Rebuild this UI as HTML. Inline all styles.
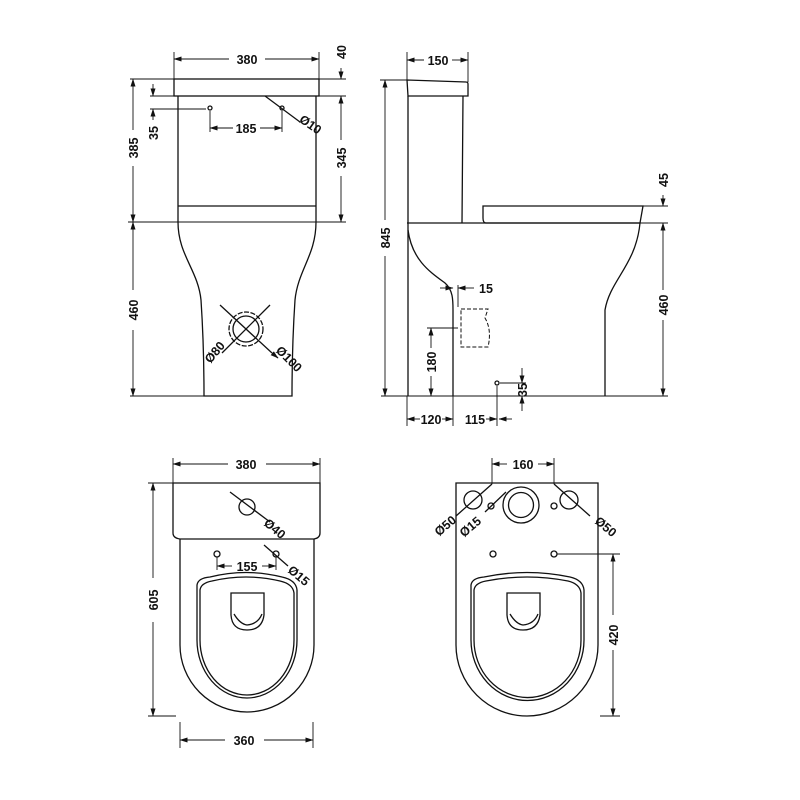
<!DOCTYPE html>
<html><head><meta charset="utf-8"><style>html,body{margin:0;padding:0;background:#fff}svg{display:block}text{font-family:"Liberation Sans",sans-serif;font-size:12.5px;font-weight:bold;fill:#111}</style></head><body>
<svg width="800" height="800" viewBox="0 0 800 800" xmlns="http://www.w3.org/2000/svg">
<defs><marker id="a" markerWidth="8" markerHeight="6" refX="7.5" refY="3" orient="auto-start-reverse" markerUnits="userSpaceOnUse"><path d="M0,0.5 L8,3 L0,5.5z" fill="#111"/></marker></defs>
<g fill="none" stroke="#111" stroke-width="1.3">
<!-- FRONT VIEW -->
<rect x="174" y="79" width="145" height="17"/>
<path d="M178,96 V222 C178,255 198,270 201,300 C203,330 204,370 204,396 H292 C292,370 293,330 295,300 C298,270 316,255 316,222 V96"/>
<line x1="178" y1="206" x2="316" y2="206"/>
<circle cx="210" cy="108" r="2"/><circle cx="282" cy="108" r="2"/>
<circle cx="246" cy="329" r="17" stroke-dasharray="5 1.5"/><circle cx="246" cy="329" r="13"/>
<line x1="220" y1="305" x2="272" y2="353"/><line x1="270" y1="305" x2="222" y2="353"/>
<line x1="272" y1="353" x2="278" y2="358" marker-end="url(#a)"/>
<line x1="265" y1="96" x2="300" y2="122"/>
</g>
<g fill="none" stroke="#111" stroke-width="0.9">
<line x1="174" y1="52" x2="174" y2="79"/><line x1="319" y1="52" x2="319" y2="79"/>
<line x1="174" y1="59" x2="229" y2="59" marker-start="url(#a)"/><line x1="265" y1="59" x2="319" y2="59" marker-end="url(#a)"/>
<line x1="130" y1="79" x2="174" y2="79"/><line x1="319" y1="79" x2="346" y2="79"/><line x1="316" y1="96" x2="346" y2="96"/>
<line x1="128" y1="222" x2="346" y2="222"/><line x1="130" y1="396" x2="204" y2="396"/>
<line x1="341" y1="68" x2="341" y2="79" marker-end="url(#a)"/>
<line x1="341" y1="96" x2="341" y2="140" marker-start="url(#a)"/><line x1="341" y1="176" x2="341" y2="222" marker-end="url(#a)"/>
<line x1="133" y1="79" x2="133" y2="130" marker-start="url(#a)"/><line x1="133" y1="166" x2="133" y2="222" marker-end="url(#a)"/>
<line x1="133" y1="222" x2="133" y2="290" marker-start="url(#a)"/><line x1="133" y1="330" x2="133" y2="396" marker-end="url(#a)"/>
<line x1="150" y1="96" x2="178" y2="96"/><line x1="150" y1="109" x2="206" y2="109"/>
<line x1="153" y1="84" x2="153" y2="96" marker-end="url(#a)"/><line x1="153" y1="109" x2="153" y2="120" marker-start="url(#a)"/>
<line x1="210" y1="111" x2="210" y2="132"/><line x1="282" y1="111" x2="282" y2="132"/>
<line x1="210" y1="128" x2="233" y2="128" marker-start="url(#a)"/><line x1="260" y1="128" x2="282" y2="128" marker-end="url(#a)"/>
<!-- SIDE VIEW -->
</g>
<g fill="none" stroke="#111" stroke-width="1.3">
<path d="M407,80 L466,82 Q468,82 468,84 V96 H408 Z"/>
<path d="M408,96 V396 M463,96 L462,223"/>
<path d="M483,206 H643 L640,223 H486 Q483,223 483,218 Z"/>
<path d="M407,223 H640 C636,265 610,280 605,310 V396"/>
<path d="M408,230 C412,260 430,272 445,283 C453,290 453,300 453,310 V396"/>
<path d="M461,309 H488 L485,318 Q492,330 488,347 H461 Z" stroke-dasharray="4 2" stroke-width="1"/>
<circle cx="497" cy="383" r="2"/>
</g>
<g fill="none" stroke="#111" stroke-width="0.9">
<line x1="381" y1="396" x2="668" y2="396"/>
<line x1="380" y1="80" x2="407" y2="80"/>
<line x1="385" y1="80" x2="385" y2="220" marker-start="url(#a)"/><line x1="385" y1="256" x2="385" y2="396" marker-end="url(#a)"/>
<line x1="407" y1="52" x2="407" y2="80"/><line x1="468" y1="52" x2="468" y2="82"/>
<line x1="407" y1="60" x2="424" y2="60" marker-start="url(#a)"/><line x1="452" y1="60" x2="468" y2="60" marker-end="url(#a)"/>
<line x1="643" y1="206" x2="668" y2="206"/><line x1="640" y1="223" x2="668" y2="223"/>
<line x1="663" y1="195" x2="663" y2="206" marker-end="url(#a)"/><line x1="663" y1="223" x2="663" y2="290" marker-start="url(#a)"/><line x1="663" y1="320" x2="663" y2="396" marker-end="url(#a)"/>
<line x1="440" y1="288" x2="453" y2="288" marker-end="url(#a)"/><line x1="458" y1="285" x2="458" y2="307"/><line x1="474" y1="288" x2="458" y2="288" marker-end="url(#a)"/>
<line x1="427" y1="328" x2="458" y2="328"/>
<line x1="431" y1="328" x2="431" y2="348" marker-start="url(#a)"/><line x1="431" y1="376" x2="431" y2="396" marker-end="url(#a)"/>
<line x1="500" y1="383" x2="526" y2="383"/>
<line x1="522" y1="368" x2="522" y2="383" marker-end="url(#a)"/><line x1="522" y1="411" x2="522" y2="396" marker-end="url(#a)"/>
<line x1="407" y1="396" x2="407" y2="426"/><line x1="453" y1="396" x2="453" y2="426"/><line x1="497" y1="386" x2="497" y2="426"/>
<line x1="420" y1="419" x2="407" y2="419" marker-end="url(#a)"/><line x1="442" y1="419" x2="453" y2="419" marker-end="url(#a)"/>
<line x1="486" y1="419" x2="497" y2="419" marker-end="url(#a)"/><line x1="512" y1="419" x2="499" y2="419" marker-end="url(#a)"/>
</g>
<!-- TOP VIEW LEFT -->
<g fill="none" stroke="#111" stroke-width="1.3">
<path d="M173,483 H320 V533 Q320,538 314,539 L180,539 Q173,538 173,533 Z"/>
<path d="M180,539 V645 A67,67 0 0 0 314,645 V539"/>
<path d="M197,585 Q198,578 210,577 Q246,568 282,577 Q296,580 297,590 V640 A50,58 0 0 1 197,640 Z"/>
<path d="M200,590 Q201,583 212,581 Q246,573 280,581 Q293,584 294,593 V640 A47,55 0 0 1 200,640 Z"/>
<path d="M231,593 H264 V615 Q262,630 247,630 Q232,630 231,615 Z"/>
<path d="M234,614 Q240,624 247,625 Q258,624 262,614"/>
<circle cx="247" cy="507" r="8"/><circle cx="217" cy="554" r="3"/><circle cx="276" cy="554" r="3"/>
<line x1="230" y1="492" x2="270" y2="522"/><line x1="264" y1="545" x2="288" y2="566"/>
</g>
<g fill="none" stroke="#111" stroke-width="0.9">
<line x1="173" y1="458" x2="173" y2="483"/><line x1="320" y1="458" x2="320" y2="483"/>
<line x1="173" y1="464" x2="228" y2="464" marker-start="url(#a)"/><line x1="266" y1="464" x2="320" y2="464" marker-end="url(#a)"/>
<line x1="148" y1="483" x2="173" y2="483"/><line x1="148" y1="716" x2="176" y2="716"/>
<line x1="153" y1="483" x2="153" y2="578" marker-start="url(#a)"/><line x1="153" y1="622" x2="153" y2="716" marker-end="url(#a)"/>
<line x1="180" y1="722" x2="180" y2="748"/><line x1="313" y1="722" x2="313" y2="748"/>
<line x1="180" y1="740" x2="225" y2="740" marker-start="url(#a)"/><line x1="264" y1="740" x2="313" y2="740" marker-end="url(#a)"/>
<line x1="217" y1="557" x2="217" y2="570"/><line x1="276" y1="557" x2="276" y2="570"/>
<line x1="217" y1="566" x2="232" y2="566" marker-start="url(#a)"/><line x1="262" y1="566" x2="276" y2="566" marker-end="url(#a)"/>
</g>
<!-- TOP VIEW RIGHT -->
<g fill="none" stroke="#111" stroke-width="1.3">
<path d="M456,483 H598 V645 A71,71 0 0 1 456,645 Z"/>
<path d="M471,585 Q472,578 484,577 Q527,568 570,577 Q583,580 584,590 V640 A56,60 0 0 1 471,640 Z"/>
<path d="M474,590 Q475,583 486,581 Q527,573 568,581 Q580,584 581,593 V640 A53,57 0 0 1 474,640 Z"/>
<path d="M507,593 H540 V615 Q538,630 523,630 Q508,630 507,615 Z"/>
<path d="M510,614 Q516,624 523,625 Q534,624 538,614"/>
<circle cx="473" cy="500" r="9"/><circle cx="569" cy="500" r="9"/>
<circle cx="521" cy="505" r="18"/><circle cx="521" cy="505" r="12.5"/>
<circle cx="491" cy="506" r="3"/><circle cx="554" cy="506" r="3"/>
<circle cx="493" cy="554" r="3"/><circle cx="554" cy="554" r="3"/>
<line x1="492" y1="484" x2="456" y2="516"/><line x1="506" y1="492" x2="485" y2="512"/>
<line x1="554" y1="484" x2="590" y2="516"/>
</g>
<g fill="none" stroke="#111" stroke-width="0.9">
<line x1="492" y1="458" x2="492" y2="484"/><line x1="554" y1="458" x2="554" y2="484"/>
<line x1="492" y1="464" x2="507" y2="464" marker-start="url(#a)"/><line x1="538" y1="464" x2="554" y2="464" marker-end="url(#a)"/>
<line x1="557" y1="554" x2="620" y2="554"/><line x1="600" y1="716" x2="620" y2="716"/>
<line x1="613" y1="554" x2="613" y2="615" marker-start="url(#a)"/><line x1="613" y1="650" x2="613" y2="716" marker-end="url(#a)"/>
</g>
<!-- TEXT -->
<text x="247" y="64" text-anchor="middle">380</text>
<text transform="translate(346,52) rotate(-90)" text-anchor="middle">40</text>
<text transform="translate(346,158) rotate(-90)" text-anchor="middle">345</text>
<text transform="translate(138,148) rotate(-90)" text-anchor="middle">385</text>
<text transform="translate(138,310) rotate(-90)" text-anchor="middle">460</text>
<text transform="translate(158,133) rotate(-90)" text-anchor="middle">35</text>
<text x="246" y="133" text-anchor="middle">185</text>
<text transform="translate(308,128) rotate(35)" text-anchor="middle">Ø10</text>
<text transform="translate(218,355) rotate(-50)" text-anchor="middle">Ø80</text>
<text transform="translate(286,362) rotate(45)" text-anchor="middle">Ø100</text>
<text x="438" y="65" text-anchor="middle">150</text>
<text transform="translate(390,238) rotate(-90)" text-anchor="middle">845</text>
<text transform="translate(668,180) rotate(-90)" text-anchor="middle">45</text>
<text transform="translate(668,305) rotate(-90)" text-anchor="middle">460</text>
<text x="486" y="293" text-anchor="middle">15</text>
<text transform="translate(436,362) rotate(-90)" text-anchor="middle">180</text>
<text transform="translate(527,390) rotate(-90)" text-anchor="middle">35</text>
<text x="431" y="424" text-anchor="middle">120</text>
<text x="475" y="424" text-anchor="middle">115</text>
<text x="246" y="469" text-anchor="middle">380</text>
<text transform="translate(158,600) rotate(-90)" text-anchor="middle">605</text>
<text x="244" y="745" text-anchor="middle">360</text>
<text x="247" y="571" text-anchor="middle">155</text>
<text transform="translate(272,532) rotate(40)" text-anchor="middle">Ø40</text>
<text transform="translate(296,579) rotate(40)" text-anchor="middle">Ø15</text>
<text x="523" y="469" text-anchor="middle">160</text>
<text transform="translate(448,529) rotate(-40)" text-anchor="middle">Ø50</text>
<text transform="translate(473,530) rotate(-40)" text-anchor="middle">Ø15</text>
<text transform="translate(603,530) rotate(40)" text-anchor="middle">Ø50</text>
<text transform="translate(618,635) rotate(-90)" text-anchor="middle">420</text>
</svg>
</body></html>
